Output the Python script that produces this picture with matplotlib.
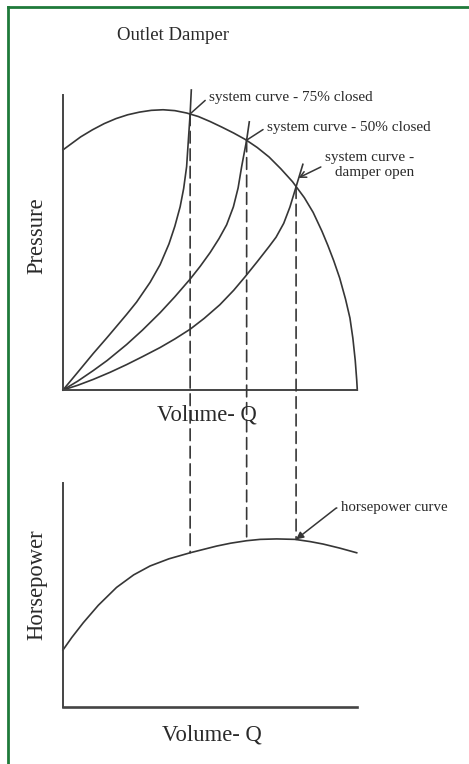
import matplotlib.pyplot as plt
from matplotlib.lines import Line2D
from matplotlib.patches import ConnectionPatch

plt.rcParams['font.family'] = ['Liberation Serif', 'DejaVu Serif']

# values (volume and pressure/horsepower in 0..100 units)
fan_q = [0, 3, 6, 10, 14, 18, 22, 26, 30, 34, 38, 42, 46, 50, 54, 58, 62, 66, 70, 74, 78, 82,
         85, 88, 90, 92, 94, 96, 97.5, 98.5, 99.3, 99.8, 100]
fan_p = [81.4, 83.6, 85.8, 88.2, 90.3, 92.0, 93.3, 94.2, 94.8, 95.0, 94.7, 93.9, 92.7, 91.0, 89.1, 87.1,
         84.9, 82.2, 79.0, 75.0, 70.6, 65.2, 60.2, 53.8, 49.0, 43.8, 38.0, 30.8, 24.4, 17.5, 10.0, 3.4, 0]

sys75_q = [0, 5, 10.3, 15, 21.6, 25, 29.6, 33, 36, 38, 39.8, 41, 42, 42.6, 43.2, 43.6]
sys75_p = [0, 6.0, 12.4, 17.8, 25.6, 29.8, 36.5, 42.5, 49.5, 55.5, 62.1, 68.3, 75.7, 84.7, 93.6, 101.7]

sys50_q = [0, 5, 10.3, 15, 21.6, 27, 33, 38, 43.2, 46.6, 50, 53, 55.6, 57.9, 59.5, 60.7, 61.6, 62.4, 63.3]
sys50_p = [0, 3.0, 6.6, 10.0, 15.4, 20.3, 26.2, 31.6, 37.6, 41.9, 46.6, 51.3, 56.0, 62.1, 68.5, 75.7,
           80.5, 84.7, 90.9]

open_q = [0, 5, 10.3, 16, 21.6, 27, 33, 38, 43.2, 48, 53.3, 58, 61.8, 66, 70, 72.4, 75, 77.1, 79.2, 81.5]
open_p = [0, 1.6, 3.6, 6.0, 8.6, 11.3, 14.4, 17.3, 20.6, 24.3, 28.9, 33.8, 38.3, 43.5, 48.6, 51.8,
          56.5, 62.0, 68.9, 76.5]

hp_q = [0, 3, 6.9, 12, 18.2, 24, 29.6, 36, 43.2, 52.2, 57, 62.4, 67, 72.6, 78.8, 84, 88.4, 94, 99.8]
hp_v = [25.4, 31.0, 37.6, 45.4, 53.4, 59.0, 63.0, 66.2, 68.9, 71.9, 73.2, 74.3, 74.9, 75.1, 74.9, 73.9,
        72.8, 71.0, 68.9]

# operating points: volume, pressure on the fan curve, horsepower
op_q = [43.2, 62.4, 79.2]
op_p = [93.6, 84.7, 68.9]
op_hp = [68.9, 74.3, 74.9]

W, H = 469, 764
def fx(px):
    return px / W
def fy(py):
    return 1 - py / H

fig = plt.figure(figsize=(W / 100, H / 100), dpi=100)
ax1 = fig.add_axes([fx(63), fy(390), 294.3 / W, 295 / H])
ax2 = fig.add_axes([fx(63), fy(706.7), 294.3 / W, 223.4 / H])

line_c = '#363636'
for ax in (ax1, ax2):
    ax.set_xlim(0, 100)
    ax.set_ylim(0, 100)
    ax.set_xticks([])
    ax.set_yticks([])
    ax.spines['top'].set_visible(False)
    ax.spines['right'].set_visible(False)
    for s in ('left', 'bottom'):
        ax.spines[s].set_color('#444444')
        ax.spines[s].set_linewidth(1.4)
    ax.patch.set_alpha(0)
ax2.spines['bottom'].set_linewidth(1.9)

ax1.plot(fan_q, fan_p, color=line_c, lw=1.2, clip_on=False)
ax1.plot(sys75_q, sys75_p, color=line_c, lw=1.2, clip_on=False)
ax1.plot(sys50_q, sys50_p, color=line_c, lw=1.2, clip_on=False)
ax1.plot(open_q, open_p, color=line_c, lw=1.2, clip_on=False)
ax2.plot(hp_q, hp_v, color=line_c, lw=1.2, clip_on=False)

for q, p, h in zip(op_q, op_p, op_hp):
    con = ConnectionPatch(xyA=(q, p), coordsA=ax1.transData,
                          xyB=(q, h), coordsB=ax2.transData,
                          color=line_c, lw=1.2, linestyle=(0, (7, 3.5)))
    fig.add_artist(con)

tc = '#2a2a2a'
fig.text(fx(173), fy(36), 'Outlet Damper', ha='center', va='center', fontsize=13.5, color=tc)
fig.text(fx(37), fy(236), 'Pressure', ha='center', va='center', rotation=90, fontsize=16.3, color=tc)
fig.text(fx(207), fy(415), 'Volume- Q', ha='center', va='center', fontsize=16.3, color=tc)
fig.text(fx(37), fy(585), 'Horsepower', ha='center', va='center', rotation=90, fontsize=16.3, color=tc)
fig.text(fx(212), fy(735), 'Volume- Q', ha='center', va='center', fontsize=16.3, color=tc)

ann = dict(fontsize=11, color=tc, textcoords='figure fraction')
ax1.annotate('system curve - 75% closed', xy=(op_q[0], op_p[0]), xytext=(fx(209), fy(97)),
             ha='left', va='center',
             arrowprops=dict(arrowstyle='-', color=line_c, lw=1.1, shrinkA=1, shrinkB=0, relpos=(0, 0.5)),
             **ann)
ax1.annotate('system curve - 50% closed', xy=(op_q[1], op_p[1]), xytext=(fx(267), fy(127)),
             ha='left', va='center',
             arrowprops=dict(arrowstyle='-', color=line_c, lw=1.1, shrinkA=1, shrinkB=0, relpos=(0, 0.5)),
             **ann)
ax1.annotate('system curve -\ndamper open', xy=(op_q[2] + 0.8, op_p[2] + 3), xytext=(fx(414), fy(165)),
             ha='right', va='center', multialignment='right', linespacing=1.25,
             arrowprops=dict(arrowstyle='->', color=line_c, lw=1.1, shrinkA=1, shrinkB=0, relpos=(0, 0.5)),
             **ann)
ax2.annotate('horsepower curve', xy=(op_q[2], op_hp[2]), xytext=(fx(341), fy(508)),
             ha='left', va='center', fontsize=10.7, color=tc, textcoords='figure fraction',
             arrowprops=dict(arrowstyle='-|>', color=line_c, lw=1.1, shrinkA=1, shrinkB=0,
                             relpos=(0, 0.5), connectionstyle='angle,angleA=180,angleB=38,rad=0'))

green = '#1f7a3a'
fig.add_artist(Line2D([fx(8), 1], [fy(7), fy(7)], transform=fig.transFigure, color=green, lw=2))
fig.add_artist(Line2D([fx(8), fx(8)], [fy(7), 0], transform=fig.transFigure, color=green, lw=2))

fig.savefig('out.png', dpi=100)
